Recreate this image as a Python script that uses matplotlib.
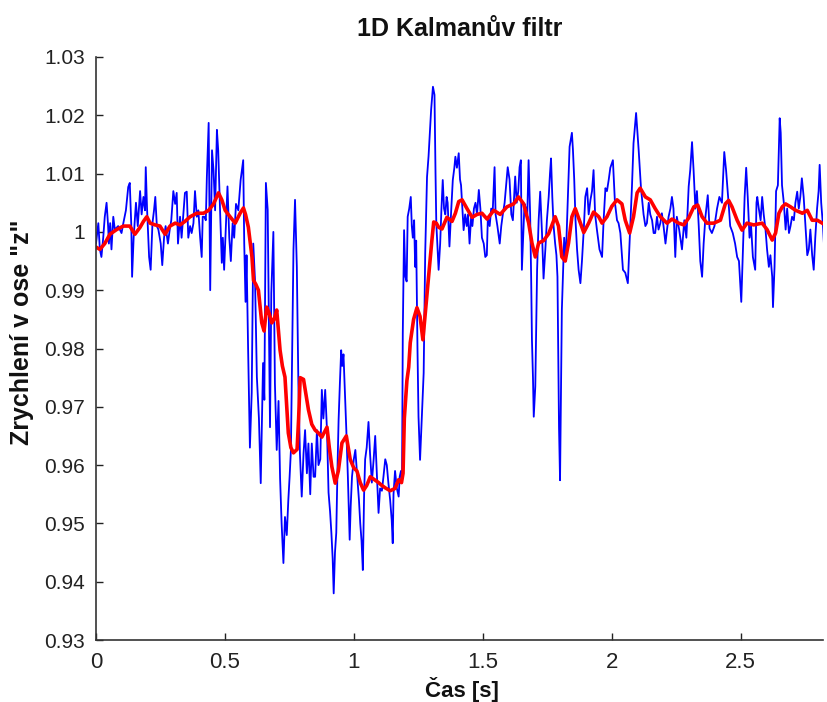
import matplotlib
matplotlib.use("Agg")
import matplotlib.pyplot as plt
from matplotlib import font_manager

# ---------------- data ----------------
t_meas = [0.000, 0.009, 0.015, 0.021, 0.028, 0.034, 0.041, 0.047, 0.050, 0.055, 0.060, 0.067, 0.073, 0.086, 0.099,
          0.106, 0.116, 0.125, 0.131, 0.137, 0.140, 0.146, 0.155, 0.162, 0.171, 0.177, 0.184, 0.190, 0.193, 0.198,
          0.206, 0.212, 0.219, 0.225, 0.230, 0.236, 0.242, 0.251, 0.257, 0.264, 0.270, 0.279, 0.286, 0.292, 0.300,
          0.307, 0.313, 0.318, 0.326, 0.332, 0.338, 0.345, 0.352, 0.358, 0.365, 0.371, 0.378, 0.384, 0.391, 0.397,
          0.404, 0.410, 0.414, 0.420, 0.426, 0.430, 0.437, 0.443, 0.450, 0.456, 0.462, 0.469, 0.474, 0.482, 0.488,
          0.492, 0.497, 0.504, 0.510, 0.517, 0.523, 0.530, 0.536, 0.543, 0.552, 0.561, 0.571, 0.575, 0.580, 0.584,
          0.590, 0.597, 0.604, 0.610, 0.617, 0.624, 0.632, 0.639, 0.648, 0.653, 0.659, 0.666, 0.675, 0.680, 0.688,
          0.694, 0.701, 0.708, 0.714, 0.720, 0.727, 0.733, 0.740, 0.746, 0.751, 0.756, 0.766, 0.772, 0.779, 0.785,
          0.791, 0.798, 0.805, 0.811, 0.818, 0.824, 0.831, 0.837, 0.844, 0.850, 0.857, 0.863, 0.870, 0.876, 0.882,
          0.889, 0.896, 0.902, 0.908, 0.913, 0.918, 0.922, 0.927, 0.932, 0.937, 0.941, 0.946, 0.951, 0.955, 0.960,
          0.966, 0.971, 0.977, 0.984, 0.988, 0.993, 1.000, 1.006, 1.010, 1.015, 1.020, 1.025, 1.030, 1.035, 1.040,
          1.044, 1.050, 1.057, 1.063, 1.070, 1.077, 1.083, 1.090, 1.096, 1.102, 1.109, 1.115, 1.122, 1.128, 1.134,
          1.141, 1.147, 1.151, 1.154, 1.160, 1.167, 1.174, 1.178, 1.183, 1.187, 1.190, 1.195, 1.200, 1.205, 1.209,
          1.215, 1.221, 1.225, 1.229, 1.234, 1.238, 1.242, 1.247, 1.251, 1.257, 1.264, 1.271, 1.277, 1.284, 1.290,
          1.294, 1.300, 1.303, 1.307, 1.313, 1.317, 1.320, 1.325, 1.329, 1.335, 1.340, 1.345, 1.350, 1.355, 1.360,
          1.364, 1.371, 1.377, 1.384, 1.390, 1.394, 1.400, 1.407, 1.412, 1.416, 1.421, 1.426, 1.432, 1.438, 1.443,
          1.449, 1.455, 1.460, 1.466, 1.472, 1.478, 1.485, 1.491, 1.497, 1.504, 1.510, 1.516, 1.520, 1.527, 1.533,
          1.539, 1.543, 1.546, 1.550, 1.557, 1.566, 1.572, 1.578, 1.585, 1.591, 1.597, 1.604, 1.611, 1.617, 1.626,
          1.632, 1.638, 1.643, 1.648, 1.652, 1.657, 1.662, 1.668, 1.673, 1.678, 1.684, 1.688, 1.691, 1.695, 1.698,
          1.704, 1.711, 1.717, 1.723, 1.730, 1.736, 1.743, 1.749, 1.756, 1.761, 1.765, 1.770, 1.775, 1.781, 1.786,
          1.790, 1.796, 1.800, 1.807, 1.816, 1.822, 1.829, 1.837, 1.846, 1.850, 1.855, 1.860, 1.866, 1.872, 1.879,
          1.885, 1.892, 1.898, 1.905, 1.911, 1.918, 1.924, 1.930, 1.936, 1.943, 1.953, 1.963, 1.969, 1.976, 1.982,
          1.989, 1.995, 2.005, 2.013, 2.021, 2.027, 2.034, 2.044, 2.053, 2.063, 2.070, 2.079, 2.085, 2.095, 2.105,
          2.114, 2.124, 2.131, 2.137, 2.144, 2.150, 2.157, 2.163, 2.169, 2.176, 2.182, 2.189, 2.195, 2.202, 2.209,
          2.215, 2.221, 2.228, 2.234, 2.240, 2.247, 2.253, 2.262, 2.273, 2.282, 2.290, 2.299, 2.305, 2.312, 2.318,
          2.325, 2.331, 2.338, 2.344, 2.351, 2.357, 2.364, 2.373, 2.380, 2.389, 2.399, 2.409, 2.418, 2.428, 2.437,
          2.444, 2.454, 2.460, 2.470, 2.479, 2.487, 2.494, 2.503, 2.510, 2.516, 2.522, 2.528, 2.535, 2.541, 2.548,
          2.557, 2.562, 2.565, 2.571, 2.578, 2.584, 2.590, 2.597, 2.603, 2.610, 2.616, 2.623, 2.626, 2.632, 2.638,
          2.645, 2.652, 2.656, 2.661, 2.668, 2.675, 2.681, 2.688, 2.694, 2.700, 2.707, 2.713, 2.720, 2.726, 2.732,
          2.738, 2.745, 2.752, 2.759, 2.765, 2.771, 2.778, 2.784, 2.790, 2.797, 2.803, 2.807, 2.813, 2.820, 2.826,
          2.836]

z_meas = [0.9980, 1.0015, 0.9970, 0.9957, 0.9990, 1.0026, 1.0050, 1.0010, 0.9980, 1.0015, 0.9970, 1.0026, 1.0004, 1.0010, 0.9998,
          1.0015, 1.0037, 1.0077, 1.0084, 1.0010, 0.9923, 0.9990, 1.0050, 1.0010, 1.0070, 1.0030, 1.0060, 1.0037, 1.0111, 1.0040,
          0.9957, 0.9935, 1.0015, 1.0037, 1.0060, 1.0010, 1.0004, 0.9980, 0.9943, 0.9990, 1.0010, 0.9980, 1.0004, 1.0020, 1.0070,
          1.0048, 1.0067, 0.9980, 1.0026, 0.9990, 1.0026, 1.0067, 1.0069, 0.9990, 1.0010, 0.9998, 1.0015, 1.0070, 1.0026, 1.0037,
          0.9990, 0.9957, 1.0026, 1.0026, 1.0020, 1.0094, 1.0187, 0.9900, 1.0140, 1.0105, 1.0037, 1.0175, 1.0140, 1.0026, 0.9947,
          0.9990, 0.9935, 1.0010, 1.0078, 0.9990, 0.9950, 1.0015, 0.9990, 1.0048, 1.0037, 1.0089, 1.0123, 0.9980, 0.9880, 0.9960,
          0.9800, 0.9630, 0.9724, 0.9980, 0.9915, 0.9751, 0.9680, 0.9569, 0.9775, 0.9712, 1.0084, 1.0038, 0.9665, 0.9895, 1.0000,
          0.9740, 0.9626, 0.9710, 0.9578, 0.9500, 0.9432, 0.9511, 0.9480, 0.9540, 0.9580, 0.9625, 0.9970, 1.0055, 0.9940, 0.9740,
          0.9620, 0.9546, 0.9620, 0.9660, 0.9586, 0.9637, 0.9550, 0.9637, 0.9580, 0.9580, 0.9660, 0.9600, 0.9610, 0.9729, 0.9680,
          0.9729, 0.9660, 0.9553, 0.9520, 0.9484, 0.9440, 0.9380, 0.9450, 0.9484, 0.9600, 0.9677, 0.9740, 0.9797, 0.9770, 0.9790,
          0.9720, 0.9660, 0.9580, 0.9472, 0.9530, 0.9580, 0.9610, 0.9626, 0.9600, 0.9570, 0.9540, 0.9500, 0.9470, 0.9420, 0.9550,
          0.9610, 0.9630, 0.9674, 0.9620, 0.9570, 0.9610, 0.9650, 0.9580, 0.9518, 0.9560, 0.9556, 0.9580, 0.9610, 0.9600, 0.9570,
          0.9540, 0.9506, 0.9466, 0.9550, 0.9590, 0.9560, 0.9546, 0.9580, 0.9590, 0.9570, 0.9826, 1.0003, 0.9923, 0.9915, 1.0026,
          1.0040, 1.0060, 1.0010, 0.9990, 1.0020, 0.9940, 0.9985, 0.9800, 0.9683, 0.9609, 0.9683, 0.9758, 0.9964, 1.0094, 1.0130,
          1.0163, 1.0210, 1.0226, 1.0249, 1.0235, 1.0100, 1.0015, 0.9970, 0.9935, 0.9980, 1.0040, 1.0089, 1.0040, 1.0030, 1.0060,
          1.0050, 0.9975, 1.0030, 1.0089, 1.0110, 1.0129, 1.0110, 1.0135, 1.0090, 1.0080, 1.0040, 1.0003, 1.0030, 1.0010, 1.0030,
          0.9980, 1.0025, 1.0010, 1.0040, 1.0050, 1.0030, 1.0072, 1.0040, 0.9990, 0.9980, 0.9957, 0.9960, 1.0025, 1.0010, 1.0040,
          1.0037, 1.0077, 1.0111, 1.0030, 1.0010, 0.9980, 1.0010, 1.0030, 1.0050, 1.0080, 1.0111, 1.0090, 1.0030, 1.0020, 1.0095,
          1.0050, 1.0070, 1.0111, 1.0123, 0.9935, 0.9990, 1.0048, 1.0040, 1.0030, 1.0123, 1.0030, 0.9920, 0.9815, 0.9750, 0.9683,
          0.9735, 0.9935, 1.0020, 1.0069, 0.9998, 0.9920, 0.9970, 1.0020, 1.0060, 1.0100, 1.0126, 1.0060, 1.0010, 0.9980, 0.9960,
          0.9923, 0.9665, 0.9574, 0.9866, 0.9990, 0.9950, 1.0040, 1.0146, 1.0170, 1.0141, 1.0090, 1.0020, 0.9970, 0.9935, 0.9912,
          0.9950, 1.0004, 1.0060, 1.0075, 1.0030, 1.0055, 1.0070, 1.0106, 1.0030, 1.0004, 0.9970, 0.9957, 1.0020, 1.0075, 1.0070,
          1.0090, 1.0110, 1.0123, 1.0050, 1.0020, 1.0015, 0.9998, 0.9935, 0.9930, 0.9912, 0.9985, 1.0078, 1.0152, 1.0204, 1.0140,
          1.0075, 1.0030, 1.0010, 1.0015, 1.0050, 1.0030, 1.0020, 0.9998, 0.9998, 1.0026, 1.0004, 1.0015, 1.0032, 1.0008, 0.9980,
          1.0004, 1.0026, 1.0040, 1.0060, 1.0040, 0.9957, 1.0026, 1.0004, 0.9970, 1.0020, 0.9990, 1.0078, 1.0106, 1.0154, 1.0106,
          1.0040, 1.0070, 1.0010, 0.9950, 0.9923, 0.9980, 1.0026, 1.0063, 1.0006, 0.9998, 1.0010, 1.0040, 1.0060, 1.0050, 1.0137,
          1.0106, 1.0048, 1.0010, 0.9998, 0.9980, 0.9957, 0.9950, 0.9880, 0.9980, 1.0060, 1.0110, 1.0060, 0.9990, 1.0010, 0.9957,
          0.9935, 1.0050, 1.0060, 1.0040, 1.0020, 1.0060, 1.0030, 1.0004, 0.9970, 0.9940, 0.9960, 0.9923, 0.9871, 0.9940, 1.0070,
          1.0080, 1.0195, 1.0170, 1.0080, 1.0050, 1.0004, 1.0040, 0.9998, 1.0010, 1.0026, 1.0020, 1.0050, 1.0069, 1.0040, 1.0060,
          1.0092, 1.0060, 1.0010, 0.9960, 0.9970, 1.0004, 0.9960, 0.9935, 0.9990, 1.0040, 1.0070, 1.0115, 1.0050, 1.0010, 0.9960,
          0.9950]

t_kalman = [0.000, 0.015, 0.034, 0.054, 0.080, 0.106, 0.131, 0.151, 0.171, 0.184, 0.197, 0.210, 0.229, 0.248, 0.268,
            0.287, 0.307, 0.326, 0.345, 0.365, 0.391, 0.417, 0.437, 0.456, 0.475, 0.488, 0.501, 0.520, 0.540, 0.559,
            0.572, 0.580, 0.591, 0.605, 0.611, 0.620, 0.630, 0.643, 0.652, 0.662, 0.672, 0.682, 0.691, 0.701, 0.714,
            0.723, 0.733, 0.740, 0.746, 0.756, 0.766, 0.780, 0.786, 0.792, 0.805, 0.815, 0.824, 0.837, 0.850, 0.863,
            0.876, 0.896, 0.905, 0.915, 0.928, 0.940, 0.954, 0.971, 0.986, 1.000, 1.012, 1.025, 1.038, 1.050, 1.064,
            1.080, 1.096, 1.109, 1.122, 1.141, 1.160, 1.174, 1.185, 1.191, 1.196, 1.206, 1.213, 1.219, 1.232, 1.245,
            1.257, 1.268, 1.277, 1.290, 1.303, 1.310, 1.320, 1.329, 1.342, 1.361, 1.381, 1.394, 1.407, 1.420, 1.439,
            1.459, 1.478, 1.497, 1.517, 1.543, 1.568, 1.594, 1.620, 1.639, 1.659, 1.678, 1.691, 1.704, 1.717, 1.736,
            1.756, 1.781, 1.794, 1.807, 1.820, 1.833, 1.846, 1.859, 1.879, 1.892, 1.911, 1.930, 1.950, 1.963, 1.982,
            2.001, 2.021, 2.040, 2.053, 2.070, 2.085, 2.099, 2.111, 2.131, 2.150, 2.169, 2.189, 2.215, 2.234, 2.260,
            2.280, 2.299, 2.319, 2.334, 2.351, 2.370, 2.396, 2.422, 2.441, 2.454, 2.467, 2.487, 2.506, 2.525, 2.551,
            2.584, 2.603, 2.623, 2.636, 2.649, 2.662, 2.675, 2.694, 2.714, 2.740, 2.759, 2.778, 2.798, 2.817, 2.836]

z_kalman = [0.9974, 0.9970, 0.9980, 0.9996, 1.0004, 1.0010, 1.0010, 0.9996, 1.0008, 1.0018, 1.0026, 1.0015, 1.0012, 1.0010, 0.9996,
            1.0010, 1.0015, 1.0012, 1.0018, 1.0026, 1.0032, 1.0032, 1.0037, 1.0048, 1.0067, 1.0055, 1.0037, 1.0026, 1.0015, 1.0032,
            1.0041, 1.0030, 1.0008, 0.9957, 0.9917, 0.9910, 0.9900, 0.9844, 0.9830, 0.9871, 0.9860, 0.9844, 0.9850, 0.9866, 0.9797,
            0.9770, 0.9751, 0.9700, 0.9655, 0.9630, 0.9621, 0.9627, 0.9680, 0.9750, 0.9747, 0.9720, 0.9695, 0.9670, 0.9660, 0.9655,
            0.9648, 0.9665, 0.9630, 0.9597, 0.9569, 0.9590, 0.9638, 0.9650, 0.9610, 0.9595, 0.9590, 0.9570, 0.9557, 0.9565, 0.9580,
            0.9575, 0.9570, 0.9565, 0.9561, 0.9556, 0.9560, 0.9575, 0.9570, 0.9586, 0.9680, 0.9745, 0.9768, 0.9810, 0.9850, 0.9870,
            0.9855, 0.9815, 0.9860, 0.9923, 0.9986, 1.0017, 1.0015, 1.0008, 1.0005, 1.0025, 1.0018, 1.0032, 1.0052, 1.0055, 1.0040,
            1.0025, 1.0030, 1.0032, 1.0022, 1.0037, 1.0030, 1.0043, 1.0048, 1.0060, 1.0048, 1.0016, 0.9981, 0.9957, 0.9981, 0.9985,
            0.9997, 1.0026, 1.0010, 0.9957, 0.9950, 0.9981, 1.0026, 1.0040, 1.0015, 0.9999, 1.0015, 1.0034, 1.0026, 1.0015, 1.0026,
            1.0044, 1.0055, 1.0048, 1.0020, 0.9998, 1.0026, 1.0067, 1.0075, 1.0060, 1.0055, 1.0040, 1.0026, 1.0015, 1.0022, 1.0015,
            1.0012, 1.0024, 1.0043, 1.0046, 1.0026, 1.0015, 1.0015, 1.0020, 1.0048, 1.0054, 1.0043, 1.0020, 1.0003, 1.0015, 1.0012,
            1.0015, 1.0004, 0.9986, 0.9998, 1.0032, 1.0043, 1.0048, 1.0043, 1.0037, 1.0032, 1.0037, 1.0020, 1.0020, 1.0015, 1.0010]

x_ticks = [0, 0.5, 1, 1.5, 2, 2.5]
x_tick_labels = ["0", "0.5", "1", "1.5", "2", "2.5"]
y_ticks = [0.93, 0.94, 0.95, 0.96, 0.97, 0.98, 0.99, 1.0, 1.01, 1.02, 1.03]
y_tick_labels = ["0.93", "0.94", "0.95", "0.96", "0.97", "0.98", "0.99", "1", "1.01", "1.02", "1.03"]

title_text = "1D Kalmanův filtr"
x_label = "Čas [s]"
y_label = 'Zrychlení v ose "z"'

# ---------------- fonts ----------------
plt.rcParams["font.family"] = ["Liberation Sans", "DejaVu Sans"]

# ---------------- figure ----------------
W, H = 827, 702
fig = plt.figure(figsize=(W / 100, H / 100), dpi=100)
fig.patch.set_facecolor("white")
ax = fig.add_axes([96 / W, 1 - 640 / H, (823 - 96) / W, (640 - 57) / H])

ax.plot(t_meas, z_meas, color="#0000ff", lw=1.3)
ax.plot(t_kalman, z_kalman, color="#ff0000", lw=2.6)

ax.set_xlim(0, 2.82)
ax.set_ylim(0.93, 1.03)
ax.set_xticks(x_ticks)
ax.set_xticklabels(x_tick_labels)
ax.set_yticks(y_ticks)
ax.set_yticklabels(y_tick_labels)
ax.tick_params(direction="in", length=5, width=1, colors="#222222")
ax.tick_params(axis="y", labelsize=15, pad=8)
ax.tick_params(axis="x", labelsize=16, pad=9)

for s in ["top", "right"]:
    ax.spines[s].set_visible(False)
for s in ["left", "bottom"]:
    ax.spines[s].set_color("#333333")
    ax.spines[s].set_linewidth(1.2)

fig.text(460 / W, 1 - 29 / H, title_text, ha="center", va="center", fontsize=18, fontweight="bold",
         color="#111111")
fig.text(462 / W, 1 - 689 / H, x_label, ha="center", va="center", fontsize=16, fontweight="bold",
         color="#111111")
fig.text(22 / W, 1 - 332 / H, y_label, ha="center", va="center", rotation=90, fontsize=18, fontweight="bold",
         color="#111111")

fig.savefig("out.png", dpi=100, facecolor="white")
